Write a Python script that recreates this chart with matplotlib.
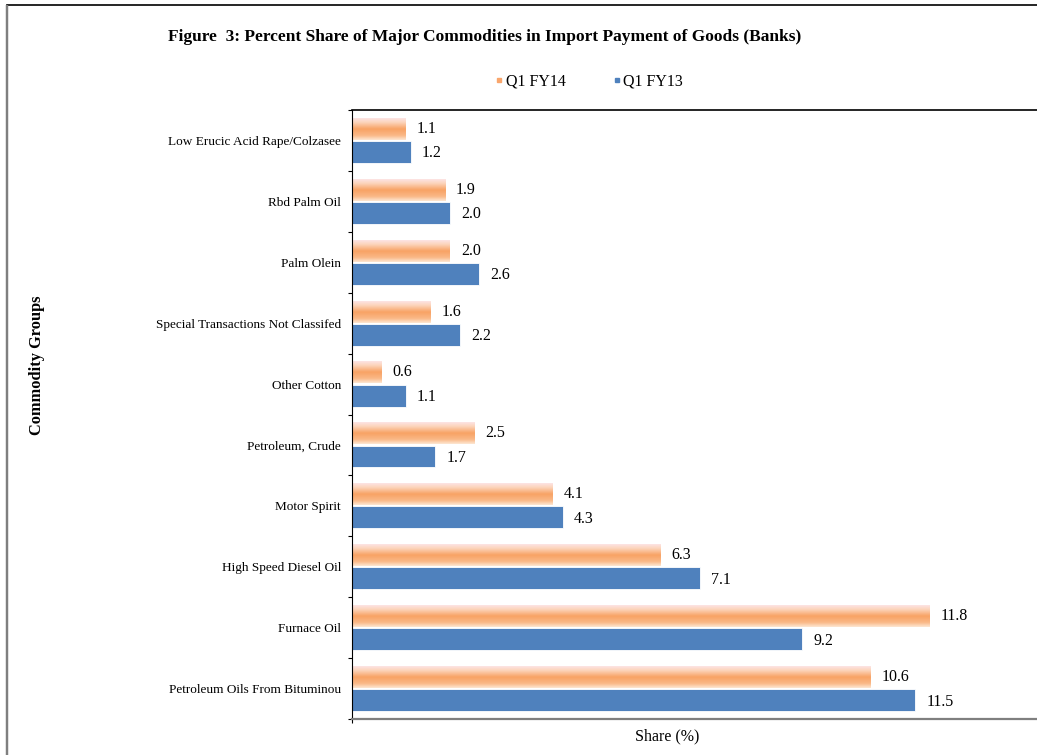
import numpy as np
import matplotlib
matplotlib.use("Agg")
import matplotlib.pyplot as plt
from matplotlib.colors import LinearSegmentedColormap
from matplotlib.patches import Rectangle
from matplotlib.lines import Line2D

plt.rcParams['font.family'] = ['Liberation Serif', 'DejaVu Serif']

categories = ["Low Erucic Acid Rape/Colzasee", "Rbd Palm Oil", "Palm Olein",
              "Special Transactions Not Classifed", "Other Cotton", "Petroleum, Crude",
              "Motor Spirit", "High Speed Diesel Oil", "Furnace Oil",
              "Petroleum Oils From Bituminou"]
q1_fy14 = [1.1, 1.9, 2.0, 1.6, 0.6, 2.5, 4.1, 6.3, 11.8, 10.6]
q1_fy13 = [1.2, 2.0, 2.6, 2.2, 1.1, 1.7, 4.3, 7.1, 9.2, 11.5]

blue = "#4F81BD"
orange = "#F9A66C"
grad = LinearSegmentedColormap.from_list(
    "org", [(0, "#FDE4E4"), (0.2, "#FCD3B8"), (0.5, "#F8A264"), (0.8, "#FAB988"), (1, "#FDE6D2")])

fig = plt.figure(figsize=(10.37, 7.55), dpi=100)
W, H = 1037, 755
ax = fig.add_axes([352 / W, 1 - 719 / H, (1055 - 352) / W, (719 - 110) / H])

pos = np.arange(len(categories))
h = 0.36
off = 0.19
ax.barh(pos + off, q1_fy13, height=h, color=blue, edgecolor="white", linewidth=0.6)
gy = np.linspace(0, 1, 64).reshape(-1, 1)
for i, v in enumerate(q1_fy14):
    y0 = i - off
    ax.imshow(gy, cmap=grad, aspect="auto", interpolation="bilinear",
              extent=[0, v, y0 + h / 2, y0 - h / 2], zorder=2)

for i, (a, b) in enumerate(zip(q1_fy14, q1_fy13)):
    ax.annotate(f"{a:.1f}", (a, i - off), xytext=(8, 0), textcoords="offset points",
                va="center", ha="left", fontsize=11.5)
    ax.annotate(f"{b:.1f}", (b, i + off), xytext=(8, -1), textcoords="offset points",
                va="center", ha="left", fontsize=11.5)

ax.set_xlim(0, (1055 - 352) / 48.96)
ax.set_ylim(len(categories) - 0.5, -0.5)
ax.set_yticks(pos)
ax.set_yticklabels(categories, fontsize=9.5)
ax.set_yticks(np.arange(-0.5, len(categories) + 0.5, 1), minor=True)
ax.tick_params(axis="y", which="major", length=0, pad=8)
ax.tick_params(axis="y", which="minor", length=3, width=0.8, direction="out")
ax.set_xticks([0])
ax.set_xticklabels([])
ax.tick_params(axis="x", length=3, width=0.8)

ax.spines["right"].set_visible(False)
ax.spines["top"].set_linewidth(1.2)
ax.spines["left"].set_linewidth(0.8)
ax.spines["bottom"].set_color("#7f7f7f")
ax.spines["bottom"].set_linewidth(1.6)

fig.text(667 / W, 1 - 736 / H, "Share (%)", fontsize=11.5, ha="center", va="center")
fig.text(37 / W, 1 - 365 / H, "Commodity Groups", rotation=90, fontsize=11.8,
         fontweight="bold", ha="center", va="center")
fig.text(485 / W, 1 - 37 / H,
         "Figure  3: Percent Share of Major Commodities in Import Payment of Goods (Banks)",
         fontsize=12.5, fontweight="bold", ha="center", va="center")

handles = [Line2D([], [], marker="s", ls="none", color=orange, markersize=3.5),
           Line2D([], [], marker="s", ls="none", color=blue, markersize=3.5)]
fig.legend(handles, ["Q1 FY14", "Q1 FY13"], loc="center", bbox_to_anchor=(588 / W, 1 - 82 / H),
           ncol=2, frameon=False, fontsize=11.5, handletextpad=0.0, columnspacing=2.8,
           handlelength=0.8)

fig.patches.append(Rectangle((7 / W, -0.1), 1.2, 1 - 5 / H + 0.1, transform=fig.transFigure,
                             fill=False, edgecolor="black", linewidth=1.2))
fig.patches.append(Rectangle((7 / W, -0.1), 0, 1 - 5 / H + 0.1, transform=fig.transFigure,
                             fill=False, edgecolor="#7f7f7f", linewidth=1.6))

fig.savefig("out.png", dpi=100)
